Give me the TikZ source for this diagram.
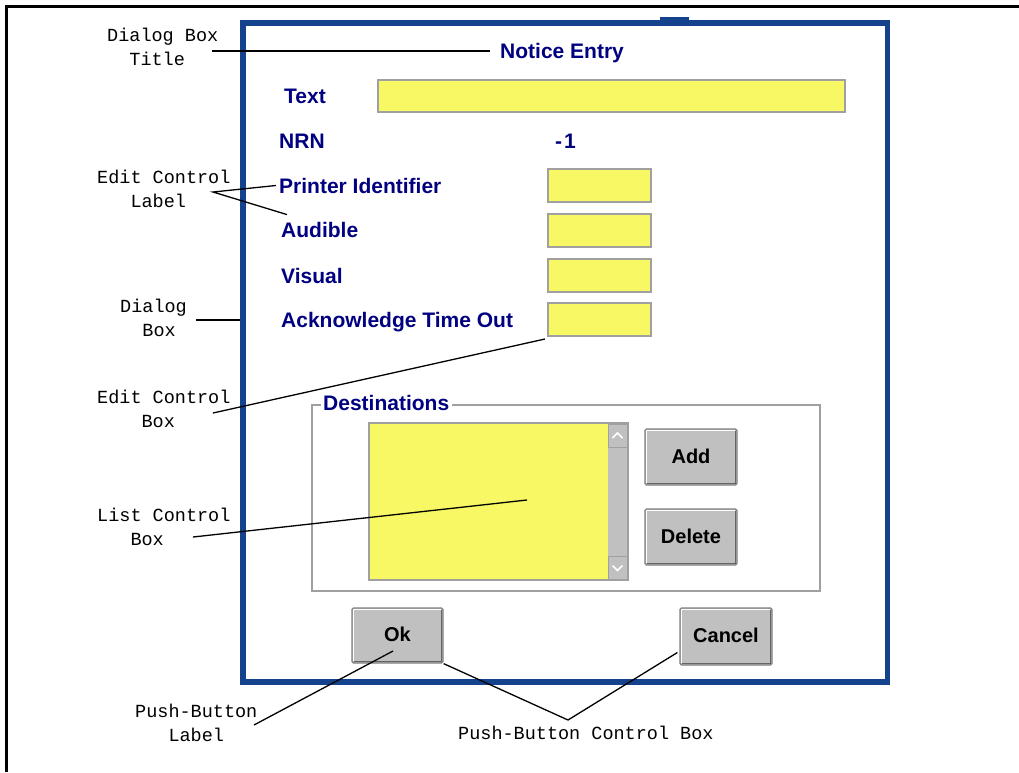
\documentclass[tikz,border=0pt]{standalone}
\usepackage{fontspec}
\setmainfont{Liberation Sans}
\newfontfamily\annfont{Liberation Mono}
\usetikzlibrary{calc}

\definecolor{navytext}{RGB}{0,0,128}
\definecolor{dlgblue}{RGB}{20,66,140}
\definecolor{fieldyellow}{RGB}{248,248,100}
\definecolor{fieldedge}{RGB}{160,160,160}
\definecolor{btngray}{RGB}{192,192,192}
\definecolor{btnedge}{RGB}{128,128,128}
\definecolor{btnshade}{RGB}{100,100,100}

% raised 3-D edge of a push button: light top/left, dark bottom/right
\newcommand\btnbevel[1]{%
  \draw[white, line width=1.2pt]
    ([shift={(2.2pt,3pt)}]#1.south west) -- ([shift={(2.2pt,-2.2pt)}]#1.north west)
    -- ([shift={(-3pt,-2.2pt)}]#1.north east);
  \draw[btnshade, line width=1.5pt]
    ([shift={(2.5pt,1.9pt)}]#1.south west) -- ([shift={(-1.9pt,1.9pt)}]#1.south east)
    -- ([shift={(-1.9pt,-2.5pt)}]#1.north east);
}

\begin{document}
\begin{tikzpicture}[x=1pt, y=-1pt,
  uitext/.style={font=\fontsize{21}{25}\selectfont\bfseries, text=navytext,
    inner sep=0pt, anchor=base west},
  anntext/.style={font=\annfont\fontsize{18.5}{24}\selectfont, align=left,
    inner sep=0pt, anchor=base west},
  editfield/.style={draw=fieldedge, fill=fieldyellow, line width=2pt, inner sep=0pt,
    minimum width=103pt, minimum height=33pt},
  pushbtn/.style={draw=btnedge, fill=btngray, line width=1.2pt, rounded corners=1.5pt,
    inner sep=0pt, minimum width=92pt, minimum height=56pt,
    font=\fontsize{20}{24}\selectfont\bfseries, text height=14pt, text depth=2pt},
  scrollbtn/.style={draw=fieldedge, fill=btngray, line width=0.8pt, inner sep=0pt,
    minimum width=19pt, minimum height=23pt},
  leader/.style={draw=black, line width=1.3pt},
]
\useasboundingbox (0,0) rectangle (1019,772);

% page frame (top and left rules)
\draw[line width=3pt] (6,772) -- (6,6) -- (1019,6);

% dialog window
\fill[dlgblue] (660,16.5) rectangle (689,21);
\node[draw=dlgblue, fill=white, line width=5.5pt, inner sep=0pt,
      minimum width=644.5pt, minimum height=659pt] (dialog) at (565.25,352.5) {};

% title
\node[uitext] (title) at (500,58) {Notice Entry};

% text entry row
\node[uitext] (lbl-text) at (284,103) {Text};
\node[editfield, minimum width=467pt, minimum height=32pt] (fld-text) at (611.5,96) {};

% NRN row
\node[uitext] (lbl-nrn) at (279,148) {NRN};
\node[uitext] (nrn-val) at (555,148) {-\kern2pt 1};

% labelled edit controls
\node[uitext] (lbl-printer) at (279,193) {Printer Identifier};
\node[uitext] (lbl-audible) at (281,237) {Audible};
\node[uitext] (lbl-visual)  at (281,283) {Visual};
\node[uitext] (lbl-ack)     at (281,327) {Acknowledge Time Out};
\node[editfield] (fld-printer) at (599.5,185.5) {};
\node[editfield] (fld-audible) at (599.5,230.5) {};
\node[editfield] (fld-visual)  at (599.5,275.5) {};
\node[editfield] (fld-ack)     at (599.5,319.5) {};

% Destinations group with list box and its buttons
\node[draw=fieldedge, line width=2pt, inner sep=0pt,
      minimum width=508pt, minimum height=186pt] (group) at (566,498) {};
\node[uitext, fill=white, inner sep=2.5pt] (group-lbl) at (320.5,410) {Destinations};
\node[editfield, minimum width=259pt, minimum height=157pt] (list) at (498.5,501.5) {};
\node[fill=btngray, inner sep=0pt, minimum width=19pt, minimum height=155pt]
      (scroll) at (617.5,501.5) {};
\node[scrollbtn] (scroll-up) at (617.5,435.5) {};
\node[scrollbtn] (scroll-down) at (617.5,568) {};
\draw[white, line width=1.6pt]
  ([shift={(-5pt,-2.5pt)}]scroll-up.center) -- ([shift={(0pt,2.5pt)}]scroll-up.center)
  -- ([shift={(5pt,-2.5pt)}]scroll-up.center);
\draw[white, line width=1.6pt]
  ([shift={(-5pt,2.5pt)}]scroll-down.center) -- ([shift={(0pt,-2.5pt)}]scroll-down.center)
  -- ([shift={(5pt,2.5pt)}]scroll-down.center);

\node[pushbtn] (btn-add) at (691,457) {Add};
\node[pushbtn] (btn-delete) at (691,537) {Delete};
\btnbevel{btn-add}
\btnbevel{btn-delete}

% dialog push buttons
\node[pushbtn, minimum width=91pt, minimum height=55pt] (btn-ok) at (397.5,635.5) {Ok};
\node[pushbtn, minimum height=57pt] (btn-cancel) at (726,636.5) {Cancel};
\btnbevel{btn-ok}
\btnbevel{btn-cancel}

% callout texts (a two-line node sits on the baseline of its second line)
\node[anntext] (ann-title) at (107,65)  {Dialog Box\\\phantom{Di}Title};
\node[anntext] (ann-ecl)   at (97,207)  {Edit Control\\\phantom{Edi}Label};
\node[anntext] (ann-dlg)   at (120,336) {Dialog\\\phantom{Di}Box};
\node[anntext] (ann-ecb)   at (97,427)  {Edit Control\\\phantom{Edit}Box};
\node[anntext] (ann-lcb)   at (97,545)  {List Control\\\phantom{Lis}Box};
\node[anntext] (ann-pbl)   at (135,741) {Push-Button\\\phantom{Pus}Label};
\node[anntext] (ann-pbc)   at (458,739) {Push-Button Control Box};

% callout line ends
\coordinate (ann-title-tip) at (212,51);
\coordinate (ann-ecl-tip)   at (213,192);
\coordinate (ann-dlg-tip)   at (196,320);
\coordinate (ann-ecb-tip)   at (213,413);
\coordinate (ann-lcb-tip)   at (193,537);
\coordinate (ann-pbl-tip)   at (254,725);
\coordinate (ann-pbc-tip)   at (568,720);
\coordinate (list-pick)     at (527,500);
\coordinate (ok-pick)       at (393,651);

% callout lines
\draw[leader] (ann-title-tip) -- ($(title.west |- ann-title-tip)+(-10,0)$);
\draw[leader] ($(lbl-printer.west)+(-3,0)$) -- (ann-ecl-tip)
              -- ($(lbl-audible.north west)+(6,-7)$);
\draw[leader] (ann-dlg-tip) -- (dialog.west |- ann-dlg-tip);
\draw[leader] (ann-ecb-tip) -- ($(fld-ack.south west)+(-2,2)$);
\draw[leader] (ann-lcb-tip) -- (list-pick);
\draw[leader] (ann-pbl-tip) -- (ok-pick);
\draw[leader] (btn-ok.south east) -- (ann-pbc-tip) -- ($(btn-cancel.west)+(-2,16)$);
\end{tikzpicture}
\end{document}
